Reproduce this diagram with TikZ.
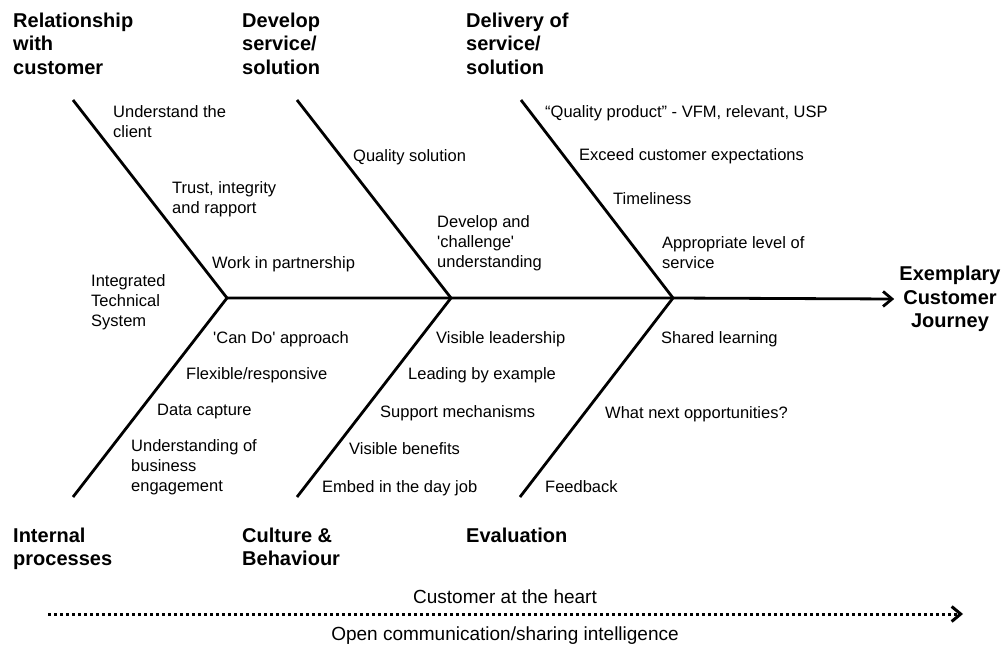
\documentclass[tikz,border=0pt]{standalone}
\usepackage{fontspec}
\setmainfont{Liberation Sans}
\usetikzlibrary{arrows.meta}
\begin{document}
\begin{tikzpicture}[x=1pt,y=-1pt,
  bone/.style={line width=2.8pt, line join=miter},
  spine/.style={line width=2.8pt, -{Straight Barb[length=9pt,width=15pt]}},
  flow/.style={line width=3pt, dash pattern=on 3pt off 3pt, -{Straight Barb[length=9pt,width=15pt]}},
  % the base anchor of a multi-line node sits on its last line
  item/.style={anchor=base west, inner sep=0pt, align=left, font=\fontsize{16.5}{20}\selectfont},
  head/.style={anchor=base west, inner sep=0pt, align=left, font=\fontsize{20}{23.5}\selectfont\bfseries},
  goalbox/.style={inner sep=0pt, align=center, font=\fontsize{20}{23.5}\selectfont\bfseries},
  note/.style={anchor=base, inner sep=0pt, font=\fontsize{19}{22}\selectfont}]
\useasboundingbox (0,0) rectangle (1006,645);

% junctions on the spine and the free ends of the six bones
\coordinate (j1) at (227,298);
\coordinate (j2) at (451,298);
\coordinate (j3) at (673,298);
\coordinate (t1) at (73,100);
\coordinate (t2) at (297,100);
\coordinate (t3) at (521,100);
\coordinate (b1) at (73,497);
\coordinate (b2) at (297,497);
\coordinate (b3) at (520,497);

% category headings
\node[head] (h1) at (13,74) {Relationship\\with\\customer};
\node[head] (h2) at (242,74) {Develop\\service/\\solution};
\node[head] (h3) at (466,74) {Delivery of\\service/\\solution};
\node[head] (h4) at (13,565.5) {Internal\\processes};
\node[head] (h5) at (242,565.5) {Culture \&\\Behaviour};
\node[head] (h6) at (466,542) {Evaluation};
\node[goalbox] (goal) at (950,299) {Exemplary\\Customer\\Journey};

% skeleton
\draw[bone] (t1) -- (j1) -- (b1);
\draw[bone] (t2) -- (j2) -- (b2);
\draw[bone] (t3) -- (j3) -- (b3);
\draw[spine] (j1) -- (j2) -- (j3) -- ([xshift=-5pt]goal.west);

% relationship with customer
\node[item] (u1) at (113,137) {Understand the\\client};
\node[item] (u2) at (172,213) {Trust,\ integrity\\and rapport};
\node[item] (u3) at (212,268) {Work in partnership};
\node[item] (u4) at (91,326) {Integrated\\Technical\\System};

% develop service / solution
\node[item] (d1) at (353,161) {Quality\ solution};
\node[item] (d2) at (437,267) {Develop and\\\textquotesingle challenge\textquotesingle\\understanding};

% delivery of service / solution
\node[item] (v1) at (545,117) {“Quality\ product”\ -\ VFM, relevant,\ USP};
\node[item] (v2) at (579,160) {Exceed customer expectations};
\node[item] (v3) at (613,204) {Timeliness};
\node[item] (v4) at (662,268) {Appropriate level\ of\\service};

% internal processes
\node[item] (i1) at (213,343) {\textquotesingle Can Do\textquotesingle\ approach};
\node[item] (i2) at (186,379) {Flexible/responsive};
\node[item] (i3) at (157,415) {Data capture};
\node[item] (i4) at (131,491) {Understanding\ of\\business\\engagement};

% culture & behaviour
\node[item] (c1) at (436,343) {Visible leadership};
\node[item] (c2) at (408,379) {Leading by example};
\node[item] (c3) at (380,417) {Support mechanisms};
\node[item] (c4) at (349,454) {Visible benefits};
\node[item] (c5) at (322,492) {Embed in the day job};

% evaluation
\node[item] (e1) at (661,343) {Shared learning};
\node[item] (e2) at (605,418) {What next opportunities?};
\node[item] (e3) at (545,492) {Feedback};

% underlying themes
\coordinate (ds) at (48,614);
\coordinate (de) at (963,614);
\draw[flow] (ds) -- (de);
\node[note] (n1) at (505,603) {Customer at the heart};
\node[note] (n2) at (505,640) {Open communication/sharing intelligence};
\end{tikzpicture}
\end{document}
